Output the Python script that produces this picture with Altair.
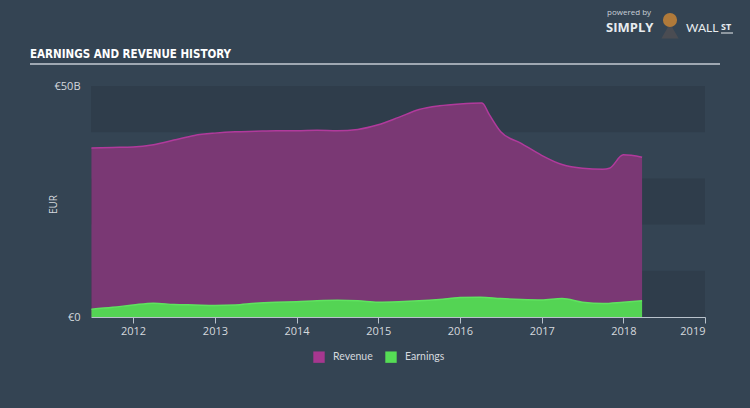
import altair as alt
import pandas as pd

# ---- data (EUR billions) ----
rev_years = [2011.49, 2011.75, 2012.0, 2012.25, 2012.5, 2012.75, 2013.0, 2013.25, 2013.5, 2013.75,
             2014.0, 2014.25, 2014.5, 2014.75, 2015.0, 2015.25, 2015.5, 2015.75, 2016.0, 2016.27,
             2016.36, 2016.5, 2016.75, 2017.0, 2017.25, 2017.5, 2017.75, 2017.83, 2018.0, 2018.23]
rev_vals = [36.6, 36.7, 36.8, 37.3, 38.3, 39.3, 39.8, 40.1, 40.2, 40.3,
            40.3, 40.4, 40.3, 40.6, 41.6, 43.2, 44.9, 45.7, 46.1, 46.3,
            43.8, 40.1, 37.6, 35.0, 33.0, 32.2, 32.0, 32.2, 35.1, 34.6]

earn_years = [2011.49, 2011.75, 2012.0, 2012.25, 2012.5, 2012.75, 2013.0, 2013.25, 2013.5, 2013.75,
              2014.0, 2014.25, 2014.5, 2014.75, 2015.0, 2015.25, 2015.5, 2015.75, 2016.0, 2016.25,
              2016.5, 2016.75, 2017.0, 2017.25, 2017.5, 2017.75, 2018.0, 2018.23]
earn_vals = [1.7, 2.1, 2.6, 3.0, 2.7, 2.6, 2.5, 2.6, 3.0, 3.2,
             3.3, 3.5, 3.6, 3.5, 3.2, 3.3, 3.5, 3.8, 4.2, 4.3,
             4.0, 3.8, 3.7, 4.0, 3.2, 2.9, 3.2, 3.5]

series_names = ["Revenue", "Earnings"]
band_starts = [0, 20, 40]
band_ends = [10, 30, 50]

BG = "#344453"
BAND = "#2f3d4b"
REV_FILL = "#7a3874"
REV_LINE = "#b13a9c"
EARN_FILL = "#54d454"
EARN_LINE = "#5fe35f"
TXT = "#d5d9de"
FONT = "Open Sans"


def to_date(y):
    return pd.Timestamp("2011-01-01") + pd.Timedelta(days=(y - 2011) * 365.25)


rev = pd.DataFrame({"date": [to_date(y) for y in rev_years], "value": rev_vals})
earn = pd.DataFrame({"date": [to_date(y) for y in earn_years], "value": earn_vals})
bands = pd.DataFrame({"y0": band_starts, "y1": band_ends})
legend_df = pd.DataFrame({"series": series_names})

x_scale = alt.Scale(domain=["2011-06-27", "2019-01-01"], nice=False)
y_scale = alt.Scale(domain=[0, 50], nice=False)

x_enc = alt.X(
    "date:T",
    scale=x_scale,
    axis=alt.Axis(
        format="%Y", tickCount={"interval": "year", "step": 1}, grid=False,
        domainColor="#b9c2cc", tickColor="#b9c2cc", tickSize=6, domainWidth=1,
        labelColor=TXT, labelFont=FONT, labelFontSize=11, labelPadding=2, title=None,
    ),
)
y_enc = alt.Y(
    "value:Q",
    scale=y_scale,
    axis=alt.Axis(
        values=[0, 50], grid=False, domain=False, ticks=False,
        labelExpr="datum.value == 0 ? '€0' : '€' + datum.value + 'B'",
        labelColor=TXT, labelFont=FONT, labelFontSize=11, labelPadding=11,
        title="EUR", titleColor=TXT, titleFont=FONT, titleFontSize=10,
        titleFontWeight="normal", titleX=-33, titleY=118,
    ),
)

band_layer = alt.Chart(bands).mark_rect(color=BAND).encode(
    x=alt.value(0), x2=alt.value(614),
    y=alt.Y("y0:Q", scale=y_scale), y2="y1:Q",
)

rev_area = alt.Chart(rev).mark_area(
    interpolate="monotone", color=REV_FILL, opacity=1,
    line={"color": REV_LINE, "strokeWidth": 1.5}
).encode(x=x_enc, y=y_enc)

earn_area = alt.Chart(earn).mark_area(
    interpolate="monotone", color=EARN_FILL, opacity=1,
    line={"color": EARN_LINE, "strokeWidth": 1.5}
).encode(x=alt.X("date:T", scale=x_scale), y=alt.Y("value:Q", scale=y_scale))

legend_layer = alt.Chart(legend_df).mark_square(opacity=0).encode(
    x=alt.value(0), y=alt.value(0),
    color=alt.Color(
        "series:N",
        scale=alt.Scale(domain=series_names, range=["#a6378f", "#55dd55"]),
        legend=alt.Legend(
            orient="none", legendX=222, legendY=265, direction="horizontal", title=None,
            symbolType="square", symbolSize=130, symbolOpacity=1, symbolStrokeWidth=0,
            labelColor=TXT, labelFont="Lato", labelFontSize=10.5, columnPadding=12,
            labelOffset=8,
        ),
    ),
)

one = pd.DataFrame({"a": [0]})
underline = alt.Chart(one).mark_rule(color="#c3cad2", strokeWidth=1.5).encode(
    x=alt.value(-61), x2=alt.value(629), y=alt.value(-22)
)
title_txt = alt.Chart(one).mark_text(
    text="EARNINGS AND REVENUE HISTORY", align="left", baseline="alphabetic",
    font="DejaVu Sans Condensed", fontWeight="bold", fontSize=11.5, color="#ffffff",
).encode(x=alt.value(-61), y=alt.value(-28))
powered = alt.Chart(one).mark_text(
    text="powered by", align="left", baseline="alphabetic", font=FONT, fontSize=8, color="#c9d0d8",
).encode(x=alt.value(516), y=alt.value(-71))
simply = alt.Chart(one).mark_text(
    text="SIMPLY", align="left", baseline="alphabetic", font=FONT, fontWeight="bold",
    fontSize=13, color="#e8ecef",
).encode(x=alt.value(515), y=alt.value(-54))
wall = alt.Chart(one).mark_text(
    text="WALL", align="left", baseline="alphabetic", font="Lato", fontSize=12, color="#e8ecef",
).encode(x=alt.value(595), y=alt.value(-54))
st = alt.Chart(one).mark_text(
    text="ST", align="left", baseline="alphabetic", font=FONT, fontWeight="bold",
    fontSize=9, color="#e8ecef",
).encode(x=alt.value(630), y=alt.value(-56))
st_line = alt.Chart(one).mark_rule(color="#e8ecef", strokeWidth=1).encode(
    x=alt.value(630), x2=alt.value(642), y=alt.value(-53)
)
bull = alt.Chart(one).mark_point(
    shape="circle", filled=True, size=200, color="#b07a3a", opacity=1
).encode(x=alt.value(579), y=alt.value(-66))
bull_body = alt.Chart(one).mark_point(
    shape="triangle-up", filled=True, size=300, color="#4a4c52", opacity=1
).encode(x=alt.value(579), y=alt.value(-55))

chart = alt.layer(
    band_layer, rev_area, earn_area, legend_layer,
    underline, title_txt, powered, simply, wall, st, st_line, bull_body, bull,
).resolve_scale(color="independent").properties(
    width=614, height=231,
    autosize=alt.AutoSizeParams(type="none"),
    padding={"left": 91, "top": 86, "right": 45, "bottom": 91},
    background=BG,
).configure_view(stroke=None)

chart.save("out.html", embed_options={"renderer": "svg", "actions": False})
